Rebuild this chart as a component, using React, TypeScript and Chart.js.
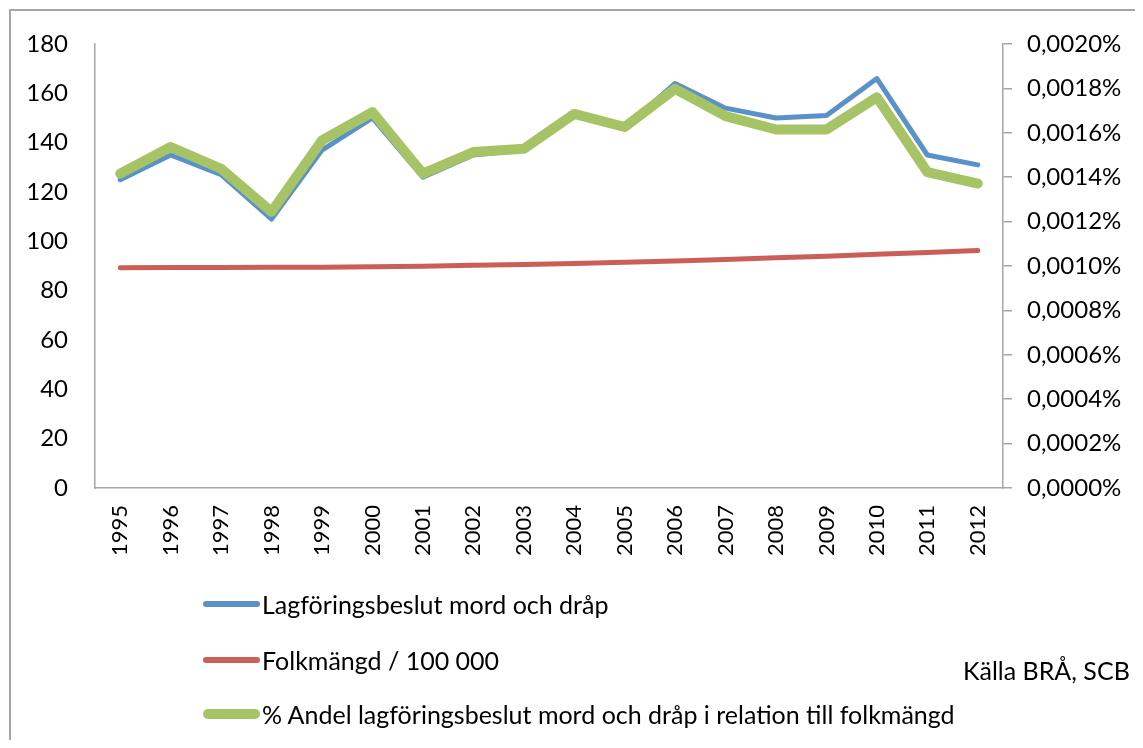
import React, { useEffect, useRef } from "react";
import { Chart, registerables } from "chart.js";

Chart.register(...registerables);

const years = ["1995","1996","1997","1998","1999","2000","2001","2002","2003","2004","2005","2006","2007","2008","2009","2010","2011","2012"];
const lagforing = [125, 135, 127, 109, 137, 150, 126, 135, 137, 151, 146, 164, 154, 150, 151, 166, 135, 131];
const folkmangd = [89.3, 89.4, 89.4, 89.5, 89.5, 89.7, 89.9, 90.3, 90.6, 91.0, 91.5, 92.0, 92.6, 93.3, 94.0, 94.8, 95.5, 96.3];
const andel = [0.001416, 0.001536, 0.001438, 0.001244, 0.001566, 0.001693, 0.001416, 0.001513, 0.001528, 0.001685, 0.001626, 0.001798, 0.001675, 0.001615, 0.001615, 0.00176, 0.001423, 0.001371];
const labels = ["Lagföringsbeslut mord och dråp", "Folkmängd / 100 000", "% Andel lagföringsbeslut mord och dråp i relation till folkmängd"];
const source = "Källa BRÅ, SCB";

const BLUE = "#5a91c8";
const RED = "#cc5e58";
const GREEN = "#a6c365";
const AXIS = "#a6a6a6";
const FONT = "Lato, 'Open Sans', sans-serif";

const p = (x: number, y: number) => ({ left: x - 8, top: y - 8 });

export default function App() {
  const ref = useRef<HTMLCanvasElement | null>(null);
  useEffect(() => {
    if (!ref.current) return;
    const chart = new Chart(ref.current, {
      type: "line",
      data: {
        labels: years,
        datasets: [
          { label: labels[0], data: lagforing, borderColor: BLUE, backgroundColor: BLUE, borderWidth: 5, pointRadius: 0, yAxisID: "y", order: 1, borderCapStyle: "round", borderJoinStyle: "round" },
          { label: labels[1], data: folkmangd, borderColor: RED, backgroundColor: RED, borderWidth: 5, pointRadius: 0, yAxisID: "y", order: 2, borderCapStyle: "round", borderJoinStyle: "round" },
          { label: labels[2], data: andel, borderColor: GREEN, backgroundColor: GREEN, borderWidth: 10, pointRadius: 0, yAxisID: "y1", order: 0, borderCapStyle: "round", borderJoinStyle: "round" },
        ],
      },
      options: {
        animation: false,
        responsive: false,
        maintainAspectRatio: false,
        layout: { padding: { top: 44, left: 0, right: 0, bottom: 0 } },
        plugins: { legend: { display: false }, tooltip: { enabled: false } },
        scales: {
          x: {
            type: "category",
            offset: true,
            grid: { display: false, drawTicks: false },
            border: { display: true, color: AXIS, width: 1.5 },
            ticks: { autoSkip: false, maxRotation: 90, minRotation: 90, padding: 17, color: "#000", font: { family: FONT, size: 22 } },
            afterFit: (s: any) => { s.height = 260; },
          },
          y: {
            position: "left",
            min: 0,
            max: 180,
            grid: { display: false, drawTicks: false },
            border: { display: true, color: AXIS, width: 1.5 },
            ticks: { stepSize: 20, padding: 27, color: "#000", font: { family: FONT, size: 24 } },
            afterFit: (s: any) => { s.width = 95; },
          },
          y1: {
            position: "right",
            min: 0,
            max: 0.002,
            grid: { display: true, drawOnChartArea: false, drawTicks: true, tickLength: 9, color: AXIS, lineWidth: 1.5 },
            border: { display: true, color: AXIS, width: 1.5 },
            ticks: {
              stepSize: 0.0002,
              padding: 15,
              color: "#000",
              font: { family: FONT, size: 24 },
              callback: (v: any) => Number(v).toFixed(4).replace(".", ",") + "%",
            },
            afterFit: (s: any) => { s.width = 140; },
          },
        },
      },
    });
    return () => chart.destroy();
  }, []);

  const colors = [BLUE, RED, GREEN];
  const legendY = [604, 660, 714];
  const textStyle: React.CSSProperties = { fontFamily: FONT, fontSize: 25, color: "#000", whiteSpace: "nowrap", lineHeight: "30px" };

  return (
    <div style={{ position: "relative", width: 1127, height: 732 }}>
      <div style={{ position: "absolute", ...p(9, 9), width: 1129, height: 739, boxSizing: "border-box", border: `2px solid ${AXIS}`, borderBottom: "none" }} />
      <canvas ref={ref} width={1143} height={748} style={{ position: "absolute", left: -8, top: -8, width: 1143, height: 748 }} />
      {labels.map((l, i) => (
        <div key={i} style={{ position: "absolute", ...p(203, legendY[i] - 15), height: 30, display: "flex", alignItems: "center" }}>
          <div style={{ width: 57, height: i === 2 ? 10 : 6, borderRadius: 5, background: colors[i] }} />
          <span style={{ ...textStyle, marginLeft: 2 }}>{l}</span>
        </div>
      ))}
      <div style={{ position: "absolute", ...p(963, 655), ...textStyle }}>{source}</div>
    </div>
  );
}
